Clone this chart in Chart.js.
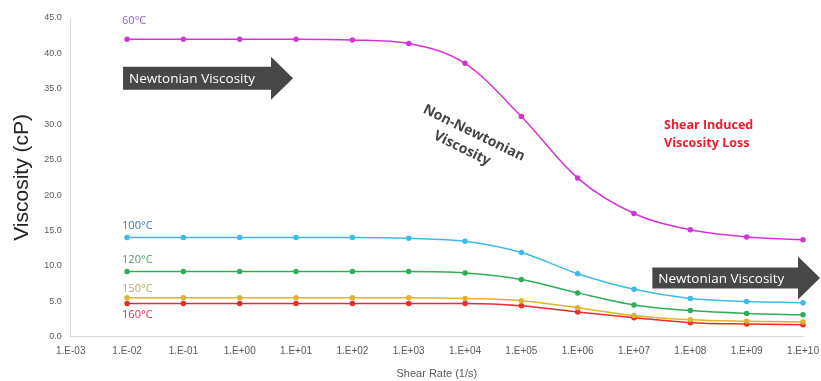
<!DOCTYPE html>
<html>
<head>
<meta charset="utf-8">
<script src="https://cdn.jsdelivr.net/npm/chart.js@4"></script>
<style>
html, body { margin:0; padding:0; background:#fff; }
#wrap { width:821px; height:381px; }
</style>
</head>
<body>
<div id="wrap"><canvas id="visc"></canvas></div>
<script>
// shear rate categories (1/s)
var shearRates = ['1.E-03','1.E-02','1.E-01','1.E+00','1.E+01','1.E+02','1.E+03','1.E+04','1.E+05','1.E+06','1.E+07','1.E+08','1.E+09','1.E+10'];

// viscosity (cP) per temperature, first category has no point
var v60  = [null, 42.0, 42.0, 42.0, 42.0, 41.9, 41.4, 38.6, 31.1, 22.4, 17.4, 15.1, 14.1, 13.7];
var v100 = [null, 14.0, 14.0, 14.0, 14.0, 14.0, 13.9, 13.5, 11.9, 8.9, 6.7, 5.4, 5.0, 4.8];
var v120 = [null, 9.2, 9.2, 9.2, 9.2, 9.2, 9.2, 9.0, 8.1, 6.2, 4.5, 3.7, 3.3, 3.1];
var v150 = [null, 5.5, 5.5, 5.5, 5.5, 5.5, 5.5, 5.4, 5.1, 4.1, 3.0, 2.4, 2.2, 2.1];
var v160 = [null, 4.7, 4.7, 4.7, 4.7, 4.7, 4.7, 4.7, 4.4, 3.5, 2.7, 2.0, 1.8, 1.7];

var seriesNames = ['60°C','100°C','120°C','150°C','160°C'];
var lineColors = ['#d633d6','#3bbbe8','#2fae5a','#e3b22a','#ee2a2a'];
var labelColors = ['#8a5fc0','#3a78b8','#4f9a6a','#b8b060','#e0304a'];
var yTicks = [0,5,10,15,20,25,30,35,40,45];

var allData = [v60, v100, v120, v150, v160];

var sets = [];
for (var i = 0; i < allData.length; i++) {
    sets.push({
        label: seriesNames[i],
        data: allData[i],
        borderColor: lineColors[i],
        backgroundColor: lineColors[i],
        borderWidth: 1.5,
        pointRadius: 2,
        pointHoverRadius: 2,
        tension: 0.4,
        cubicInterpolationMode: 'monotone',
        spanGaps: false
    });
}

// note positions in data units: [categoryIndex, value]
var curveLabelPos = [[1, 44.6], [1, 15.7], [1, 10.9], [1, 6.8], [1, 3.1]];

function arrow(ctx, x0, x1, yc, h, hh, headW, text) {
    ctx.save();
    ctx.fillStyle = '#474747';
    ctx.beginPath();
    ctx.moveTo(x0, yc - h/2);
    ctx.lineTo(x1 - headW, yc - h/2);
    ctx.lineTo(x1 - headW, yc - hh/2);
    ctx.lineTo(x1, yc);
    ctx.lineTo(x1 - headW, yc + hh/2);
    ctx.lineTo(x1 - headW, yc + h/2);
    ctx.lineTo(x0, yc + h/2);
    ctx.closePath();
    ctx.fill();
    ctx.fillStyle = '#ffffff';
    ctx.font = '13.5px "Open Sans"';
    ctx.textBaseline = 'middle';
    ctx.textAlign = 'left';
    ctx.fillText(text, x0 + 6, yc + 1);
    ctx.restore();
}

var notes = {
    id: 'notes',
    afterDatasetsDraw: function(chart) {
        var ctx = chart.ctx;
        var xs = chart.scales.x, ys = chart.scales.y;
        ctx.save();
        ctx.font = '11px "Open Sans"';
        ctx.textBaseline = 'middle';
        ctx.textAlign = 'left';
        for (var i = 0; i < curveLabelPos.length; i++) {
            ctx.fillStyle = labelColors[i];
            ctx.fillText(seriesNames[i], xs.getPixelForValue(curveLabelPos[i][0]) - 5, ys.getPixelForValue(curveLabelPos[i][1]));
        }
        ctx.restore();

        arrow(ctx, xs.getPixelForValue(1) - 4, xs.getPixelForValue(4) - 3, ys.getPixelForValue(36.5), 23, 43, 22, 'Newtonian Viscosity');
        arrow(ctx, xs.getPixelForValue(11) - 38, xs.getPixelForValue(13) + 17, ys.getPixelForValue(8.3), 21, 43, 22, 'Newtonian Viscosity');

        // rotated note along the drop
        ctx.save();
        ctx.translate(xs.getPixelForValue(7) + 5, ys.getPixelForValue(27.6));
        ctx.rotate(26 * Math.PI / 180);
        ctx.fillStyle = '#454545';
        ctx.font = 'bold 14px "Open Sans"';
        ctx.textAlign = 'center';
        ctx.textBaseline = 'middle';
        ctx.fillText('Non-Newtonian', 0, -9);
        ctx.fillText('Viscosity', -4, 10);
        ctx.restore();

        ctx.save();
        ctx.fillStyle = '#ee1c2e';
        ctx.font = 'bold 12.5px "Open Sans"';
        ctx.textAlign = 'left';
        ctx.textBaseline = 'middle';
        var lx = xs.getPixelForValue(10) + 30;
        ctx.fillText('Shear Induced', lx, ys.getPixelForValue(29.8));
        ctx.fillText('Viscosity Loss', lx, ys.getPixelForValue(27.3));
        ctx.restore();
    }
};

var chart = new Chart(document.getElementById('visc'), {
    type: 'line',
    data: { labels: shearRates, datasets: sets },
    options: {
        responsive: true,
        maintainAspectRatio: false,
        animation: false,
        layout: { padding: { top: 18, right: 18, left: 10, bottom: 0 } },
        plugins: { legend: { display: false }, tooltip: { enabled: false } },
        scales: {
            x: {
                offset: false,
                afterFit: function(axis) { axis.paddingRight = 0; },
                grid: { display: false, drawTicks: false },
                border: { color: '#d9d9d9', width: 1 },
                ticks: { color: '#595959', font: { size: 10, family: 'Arial' }, maxRotation: 0, autoSkip: false, padding: 8 },
                title: { display: true, text: 'Shear Rate (1/s)', color: '#595959', font: { size: 11, family: 'Arial' }, padding: { top: 3, bottom: 0 } }
            },
            y: {
                min: 0,
                max: 45,
                afterBuildTicks: function(axis) { axis.ticks = yTicks.map(function(v) { return { value: v }; }); },
                grid: { display: false, drawTicks: false },
                border: { color: '#d9d9d9', width: 1 },
                ticks: { color: '#595959', font: { size: 9, family: 'Arial' }, padding: 9, callback: function(v) { return v.toFixed(1); } },
                title: { display: true, text: 'Viscosity (cP)', color: '#222', font: { size: 21, family: 'Arial' }, padding: { top: 0, bottom: 0 } }
            }
        }
    },
    plugins: [notes]
});
</script>
</body>
</html>
